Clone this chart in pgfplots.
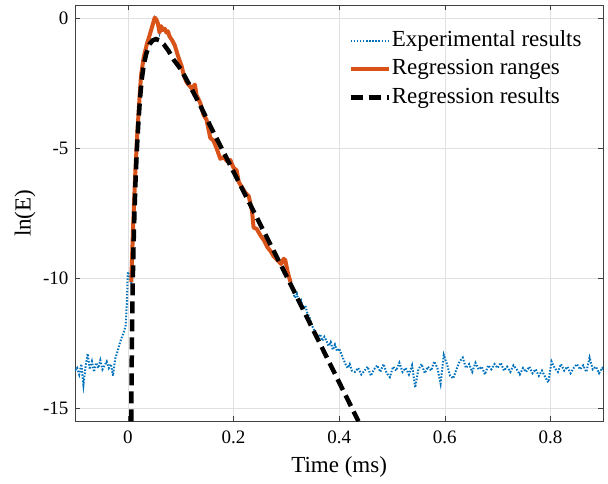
\documentclass[border=0pt]{standalone}
\usepackage{fontspec}
\setmainfont{Liberation Serif}
\usepackage{pgfplots}
\pgfplotsset{compat=1.18}

\definecolor{mblue}{rgb}{0,0.447,0.741}
\definecolor{morange}{rgb}{0.85,0.325,0.098}

\begin{document}
\begin{tikzpicture}
\begin{axis}[
  scale only axis,
  width=528.3pt, height=416pt,
  xmin=-0.1, xmax=0.9,
  ymin=-15.5, ymax=0.5,
  xtick={0,0.2,0.4,0.6,0.8},
  xticklabels={0,0.2,0.4,0.6,0.8},
  ytick={-15,-10,-5,0},
  yticklabels={-15,-10,-5,0},
  tick label style={font=\fontsize{19}{19}\selectfont},
  xticklabel style={yshift=-6pt},
  yticklabel style={xshift=-3pt},
  major tick length=5pt,
  tick style={black!75, line width=0.6pt},
  axis line style={black!75, line width=0.8pt},
  grid=major,
  grid style={black!12, line width=0.6pt},
  xlabel={Time (ms)},
  ylabel={ln(E)},
  label style={font=\fontsize{23}{23}\selectfont},
  xlabel style={at={(axis description cs:0.5,-0.11)}, anchor=center},
  ylabel style={at={(axis description cs:-0.0946,0.5)}, anchor=center},
  legend style={at={(axis description cs:0.517,0.943)}, anchor=north west,
    draw=none, fill=none, font=\fontsize{23}{23}\selectfont,
    inner xsep=0pt, inner ysep=0pt, row sep=5.5pt,
    nodes={text height=16pt, text depth=5pt, inner sep=1pt}},
  legend cell align=left,
  legend image code/.code={\draw[#1] (0pt,0pt) -- (38pt,0pt);},
]

% experimental results
\addplot[mblue, line width=2pt, dash pattern=on 1.5pt off 1.6pt] coordinates {
(-0.100,-13.55) (-0.096,-13.45) (-0.092,-13.70) (-0.088,-13.30) (-0.084,-14.10)
(-0.080,-13.40) (-0.076,-12.90) (-0.072,-13.50) (-0.068,-13.20) (-0.064,-13.60)
(-0.060,-13.25) (-0.056,-13.45) (-0.052,-13.15) (-0.048,-13.50) (-0.044,-13.35)
(-0.040,-13.20) (-0.036,-13.45) (-0.032,-13.30) (-0.028,-13.75) (-0.024,-13.10)
(-0.020,-12.85) (-0.016,-12.55) (-0.012,-12.30) (-0.008,-12.10) (-0.004,-11.80)
(-0.002,-11.00) (0.000,-9.75) (0.003,-9.90) (0.0065,-10.15)
(0.010,-8.0) (0.014,-6.0) (0.018,-4.4) (0.022,-3.1) (0.025,-2.2) (0.030,-1.5)
(0.036,-1.0) (0.042,-0.6) (0.047,-0.25) (0.051,0.03) (0.054,-0.05) (0.057,-0.2)
(0.060,-0.55) (0.063,-0.3) (0.066,-0.45) (0.070,-0.4) (0.073,-0.55) (0.076,-0.5)
(0.079,-0.7) (0.084,-0.85) (0.089,-1.05) (0.095,-1.45) (0.102,-1.85) (0.106,-2.2)
(0.111,-2.45) (0.117,-2.6) (0.121,-2.7) (0.127,-2.55) (0.130,-2.95) (0.137,-3.25)
(0.143,-3.7) (0.149,-3.9) (0.156,-4.6) (0.162,-4.7) (0.168,-5.0) (0.175,-5.4)
(0.182,-5.35) (0.188,-5.5) (0.194,-5.45) (0.200,-5.75) (0.206,-5.85) (0.210,-6.3)
(0.216,-6.5) (0.222,-6.7) (0.229,-6.85) (0.235,-7.4) (0.238,-8.05) (0.244,-8.1)
(0.251,-8.35) (0.258,-8.55) (0.264,-8.8) (0.270,-8.95) (0.276,-9.15) (0.283,-9.3)
(0.290,-9.45) (0.295,-9.25) (0.298,-9.3) (0.303,-9.8) (0.308,-10.15)
(0.312,-10.45) (0.316,-10.75) (0.320,-10.60) (0.324,-10.95) (0.328,-10.85)
(0.332,-11.20) (0.336,-11.05) (0.340,-11.35) (0.344,-11.50) (0.348,-11.80)
(0.352,-11.95) (0.356,-12.20) (0.360,-12.30) (0.364,-12.15) (0.368,-12.40)
(0.372,-12.25) (0.376,-12.40) (0.380,-12.60) (0.384,-12.45) (0.388,-12.75)
(0.392,-12.55) (0.396,-12.80) (0.400,-12.70) (0.404,-12.90) (0.408,-13.10)
(0.412,-13.30) (0.416,-13.45) (0.420,-13.30) (0.424,-13.55)
(0.430,-13.60) (0.436,-13.45) (0.442,-13.70) (0.448,-13.55) (0.454,-13.40)
(0.460,-13.75) (0.466,-13.50) (0.472,-13.35) (0.478,-13.60) (0.484,-13.30)
(0.490,-13.65) (0.496,-13.80) (0.502,-13.40) (0.508,-13.55) (0.514,-13.25)
(0.520,-13.60) (0.526,-13.45) (0.532,-13.70) (0.538,-13.35) (0.544,-14.20)
(0.550,-13.50) (0.556,-13.30) (0.562,-13.65) (0.568,-13.40) (0.574,-13.55)
(0.580,-13.20) (0.586,-13.45) (0.592,-14.05) (0.598,-12.95) (0.604,-13.30)
(0.610,-13.75) (0.616,-13.85) (0.622,-13.50) (0.628,-13.20) (0.634,-13.05)
(0.640,-13.45) (0.646,-13.30) (0.652,-13.60) (0.658,-13.25) (0.664,-13.50)
(0.670,-13.40) (0.676,-13.70) (0.682,-13.35) (0.688,-13.50) (0.694,-13.30)
(0.700,-13.45) (0.706,-13.25) (0.712,-13.55) (0.718,-13.40) (0.724,-13.60)
(0.730,-13.35) (0.736,-13.50) (0.742,-13.70) (0.748,-13.45) (0.754,-13.60)
(0.760,-13.40) (0.766,-13.65) (0.772,-13.50) (0.778,-13.75) (0.784,-13.55)
(0.790,-13.80) (0.796,-14.00) (0.802,-13.20) (0.808,-13.45) (0.814,-13.60)
(0.820,-13.30) (0.826,-13.55) (0.832,-13.40) (0.838,-13.65) (0.844,-13.45)
(0.850,-13.30) (0.856,-13.50) (0.862,-13.35) (0.868,-13.60) (0.874,-13.05)
(0.880,-13.50) (0.886,-13.40) (0.892,-13.65) (0.898,-13.45) (0.900,-13.50)
};
\addlegendentry{Experimental results}

% regression ranges
\addplot[morange, line width=4pt, line join=round] coordinates {
(0.0065,-10.15) (0.010,-8.0) (0.014,-6.0) (0.018,-4.4) (0.022,-3.1) (0.025,-2.2)
(0.030,-1.5) (0.036,-1.0) (0.042,-0.6) (0.047,-0.25) (0.051,0.03) (0.054,-0.05)
(0.057,-0.2) (0.060,-0.55) (0.063,-0.3) (0.066,-0.45) (0.070,-0.4) (0.073,-0.55)
(0.076,-0.5) (0.079,-0.7) (0.084,-0.85) (0.089,-1.05) (0.095,-1.45) (0.102,-1.85)
(0.106,-2.2) (0.111,-2.45) (0.117,-2.6) (0.121,-2.7) (0.127,-2.55) (0.130,-2.95)
(0.137,-3.25) (0.143,-3.7) (0.149,-3.9) (0.156,-4.6) (0.162,-4.7) (0.168,-5.0)
(0.175,-5.4) (0.182,-5.35) (0.188,-5.5) (0.194,-5.45) (0.200,-5.75) (0.206,-5.85)
(0.210,-6.3) (0.216,-6.5) (0.222,-6.7) (0.229,-6.85) (0.235,-7.4) (0.238,-8.05)
(0.244,-8.1) (0.251,-8.35) (0.258,-8.55) (0.264,-8.8) (0.270,-8.95) (0.276,-9.15)
(0.283,-9.3) (0.290,-9.45) (0.295,-9.25) (0.298,-9.3) (0.303,-9.8) (0.308,-10.15)
};
\addlegendentry{Regression ranges}

% regression results
\addplot[black, line width=4.5pt, dash pattern=on 12pt off 6pt] coordinates {
(0.0065,-15.5) (0.0072,-13.5) (0.008,-12.0) (0.009,-10.5) (0.0105,-9.0)
(0.0125,-7.5) (0.015,-6.0) (0.0175,-4.9) (0.020,-4.0) (0.023,-3.1) (0.026,-2.4)
(0.030,-1.8) (0.035,-1.35) (0.041,-1.0) (0.047,-0.85) (0.053,-0.8) (0.060,-0.85)
(0.068,-1.0) (0.077,-1.25) (0.087,-1.6) (0.100,-1.95) (0.115,-2.5) (0.137,-3.35)
(0.160,-4.3) (0.200,-5.9) (0.250,-7.9) (0.300,-9.9) (0.350,-11.95) (0.400,-14.0)
(0.4365,-15.5)
};
\addlegendentry{Regression results}

\end{axis}
\pgfresetboundingbox
\path (-75pt,-61.7pt) rectangle (533pt,421.3pt);
\end{tikzpicture}
\end{document}
